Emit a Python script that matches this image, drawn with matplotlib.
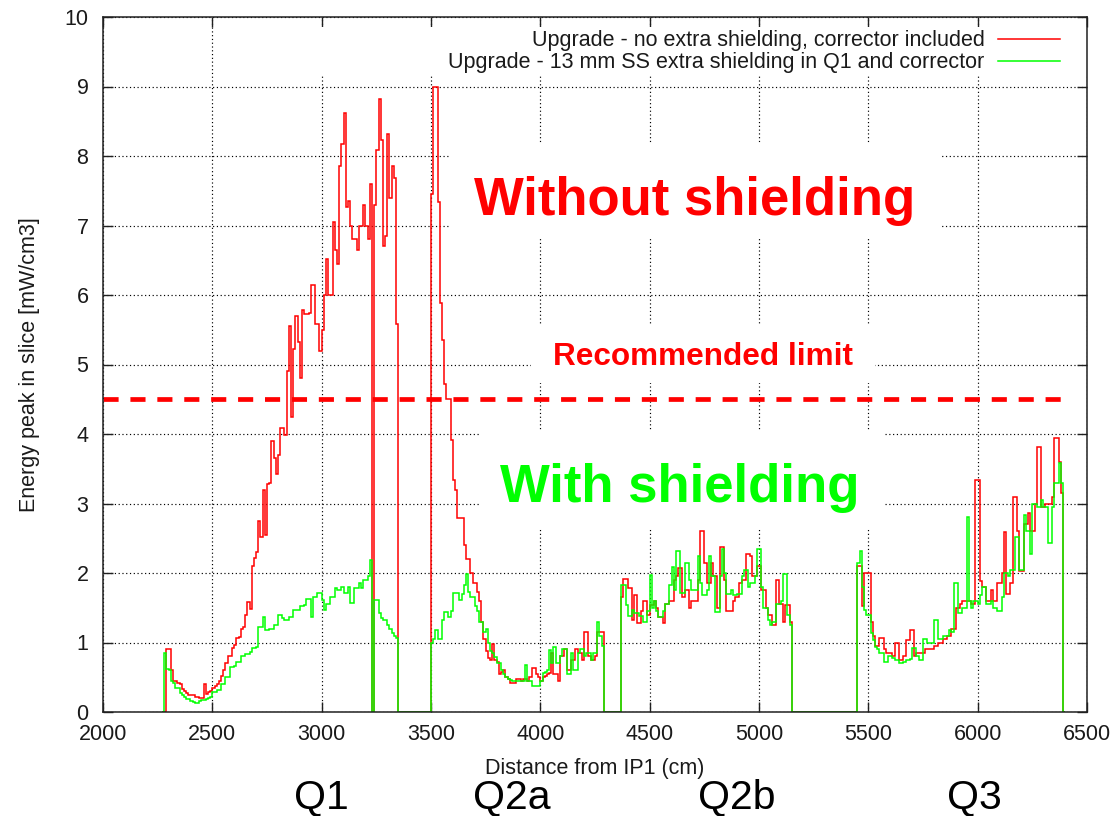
import numpy as np
import matplotlib
matplotlib.use("Agg")
import matplotlib.pyplot as plt
import matplotlib.transforms as mtransforms
from matplotlib.patches import Rectangle
from matplotlib.lines import Line2D

plt.rcParams["font.family"] = ["Liberation Sans", "DejaVu Sans"]

# ---------------------------------------------------------------- data
BIN_CM = 10                      # width of one longitudinal slice
X_TICKS = [2000, 2500, 3000, 3500, 4000, 4500, 5000, 5500, 6000, 6500]
Y_TICKS = [0, 1, 2, 3, 4, 5, 6, 7, 8, 9, 10]
RECOMMENDED_LIMIT = 4.5          # mW/cm3

LABEL_RED = "Upgrade - no extra shielding, corrector included"
LABEL_GREEN = "Upgrade - 13 mm SS extra shielding in Q1 and corrector"

MAGNETS = ["Q1", "Q2a", "Q2b", "Q3"]

# peak power density per slice, no extra shielding (first slice edge in cm)
red_q1_start = 2290
red_q1 = [0.90, 0.90, 0.60, 0.45, 0.44, 0.42, 0.41, 0.33, 0.30, 0.27,
          0.25, 0.25, 0.24, 0.22, 0.22, 0.20, 0.20, 0.40, 0.26, 0.29,
          0.30, 0.34, 0.37, 0.40, 0.45, 0.52, 0.60, 0.70, 0.80, 0.80,
          0.92, 0.96, 1.06, 1.08, 1.20, 1.22, 1.40, 1.58, 1.48, 2.10,
          2.22, 2.30, 2.75, 2.52, 3.20, 2.55, 3.28, 3.30, 3.90, 3.65,
          3.42, 3.70, 4.08, 4.08, 3.98, 4.90, 5.55, 4.25, 5.22, 5.70,
          5.33, 4.80, 5.78, 5.72, 5.72, 5.74, 6.15, 6.15, 5.58, 5.58,
          5.20, 5.50, 6.00, 6.52, 6.00, 6.00, 7.05, 6.65, 6.45, 7.85,
          8.17, 8.62, 7.26, 7.35, 7.00, 6.80, 6.80, 6.65, 7.00, 7.00,
          7.30, 7.00, 6.80, 7.60]
red_corr_start = 3240
red_corr = [7.30, 8.08, 8.82, 8.23, 6.70, 6.85, 8.32, 7.40, 7.85, 7.68,
            5.58]
red_q2a_start = 3500
red_q2a = [7.46, 9.00, 9.00, 7.34, 5.88, 5.35, 4.72, 4.50, 4.50, 3.91,
           3.34, 3.19, 2.79, 2.79, 2.79, 2.40, 2.20, 2.20, 2.00, 1.85,
           1.85, 1.73, 1.60, 1.30, 1.05, 0.88, 0.78, 0.75, 0.98, 0.75,
           0.72, 0.55, 0.58, 0.60, 0.50, 0.48, 0.42, 0.42, 0.42, 0.47,
           0.47, 0.45, 0.48, 0.47, 0.45, 0.50, 0.63, 0.63, 0.55, 0.50,
           0.45, 0.50, 0.52, 0.55, 0.56, 0.85, 0.55, 0.55, 0.45, 0.80,
           0.80, 0.90, 0.60, 0.60, 0.75, 0.75, 0.90, 0.85, 0.85, 0.75,
           1.15, 1.15, 0.80, 0.75, 0.75, 0.80, 1.15, 1.15, 1.15]
red_q2b_start = 4370
red_q2b = [1.65, 1.92, 1.92, 1.78, 1.78, 1.32, 1.68, 1.28, 1.28, 1.45,
           1.60, 1.60, 1.40, 1.54, 1.54, 1.60, 1.50, 1.37, 1.37, 1.28,
           1.55, 1.55, 1.60, 1.60, 1.90, 1.95, 2.07, 2.07, 1.65, 1.75,
           1.75, 1.50, 1.60, 1.60, 1.60, 1.90, 2.61, 2.61, 2.15, 1.85,
           1.85, 2.15, 1.95, 1.95, 1.50, 2.38, 2.38, 1.90, 1.45, 1.45,
           1.45, 1.60, 1.65, 1.65, 1.85, 1.90, 1.90, 2.28, 2.28, 2.25,
           1.95, 1.95, 2.10, 2.10, 1.75, 1.75, 1.49, 1.40, 1.40, 1.25,
           1.25, 1.90, 1.55, 1.55, 1.30, 1.54, 1.54, 1.30]
red_q3_start = 5450
red_q3 = [2.10, 2.10, 1.52, 2.00, 2.00, 2.00, 1.30, 1.10, 0.95, 0.95,
          1.06, 1.06, 0.90, 0.85, 0.85, 0.85, 0.80, 0.99, 0.99, 0.75,
          0.75, 0.80, 1.03, 1.03, 1.18, 1.18, 0.80, 0.85, 0.85, 0.85,
          0.85, 0.90, 0.90, 0.90, 0.90, 0.95, 0.95, 1.00, 1.00, 1.05,
          1.05, 1.10, 1.10, 1.20, 1.20, 1.50, 1.50, 1.55, 1.60, 1.60,
          1.60, 1.60, 1.55, 1.55, 3.34, 3.34, 1.88, 1.80, 1.80, 1.60,
          1.60, 1.75, 1.60, 1.60, 1.85, 1.85, 2.00, 2.59, 1.70, 1.70,
          1.85, 3.10, 3.10, 2.60, 2.03, 2.03, 2.70, 2.70, 2.86, 2.60,
          2.60, 3.00, 3.82, 3.82, 2.95, 2.95, 3.00, 3.00, 3.00, 3.10,
          3.94, 3.94, 3.60, 3.15]

# peak power density per slice, 13 mm SS extra shielding
green_q1_start = 2280
green_q1 = [0.85, 0.62, 0.60, 0.45, 0.42, 0.34, 0.34, 0.28, 0.24, 0.22,
            0.18, 0.18, 0.16, 0.15, 0.13, 0.13, 0.16, 0.17, 0.17, 0.19,
            0.20, 0.22, 0.29, 0.29, 0.32, 0.32, 0.41, 0.41, 0.51, 0.51,
            0.65, 0.65, 0.66, 0.72, 0.72, 0.80, 0.80, 0.84, 0.84, 0.86,
            0.92, 0.92, 0.94, 1.23, 1.23, 1.37, 1.18, 1.18, 1.20, 1.20,
            1.25, 1.25, 1.40, 1.40, 1.35, 1.32, 1.32, 1.37, 1.37, 1.47,
            1.47, 1.47, 1.52, 1.52, 1.54, 1.62, 1.62, 1.37, 1.66, 1.66,
            1.71, 1.71, 1.61, 1.47, 1.56, 1.56, 1.66, 1.66, 1.78, 1.76,
            1.76, 1.80, 1.71, 1.71, 1.80, 1.57, 1.57, 1.78, 1.78, 1.85,
            1.78, 1.90, 1.90, 1.95, 2.19]
green_corr_start = 3240
green_corr = [1.61, 1.61, 1.42, 1.35, 1.32, 1.32, 1.25, 1.20, 1.13, 1.10,
              1.06]
green_q2a_start = 3500
green_q2a = [1.00, 1.05, 1.18, 1.05, 1.05, 1.32, 1.44, 1.44, 1.36, 1.45,
             1.71, 1.71, 1.71, 1.61, 1.70, 1.83, 1.99, 1.73, 1.65, 1.65,
             1.52, 1.45, 1.30, 1.30, 1.15, 1.20, 0.99, 0.88, 0.85, 0.79,
             0.70, 0.70, 0.60, 0.55, 0.51, 0.48, 0.46, 0.45, 0.45, 0.45,
             0.45, 0.45, 0.45, 0.68, 0.45, 0.45, 0.38, 0.38, 0.38, 0.38,
             0.45, 0.56, 0.58, 0.60, 0.89, 0.70, 0.94, 0.70, 0.70, 0.80,
             0.90, 0.90, 0.55, 0.55, 0.85, 0.60, 0.60, 0.85, 0.90, 0.90,
             0.80, 0.85, 0.85, 0.75, 0.85, 0.85, 1.30, 1.10, 0.95]
green_q2b_start = 4370
green_q2b = [1.83, 1.83, 1.54, 1.38, 1.38, 1.47, 1.42, 1.42, 1.38, 1.38,
             1.30, 1.30, 1.45, 1.97, 1.50, 1.59, 1.45, 1.37, 1.37, 1.45,
             1.55, 1.55, 1.83, 2.09, 1.75, 2.31, 2.31, 1.71, 1.71, 2.14,
             2.14, 1.90, 1.76, 1.76, 1.75, 2.24, 1.85, 1.68, 1.68, 1.75,
             2.24, 1.95, 1.95, 1.44, 1.44, 1.95, 2.35, 2.00, 1.70, 1.70,
             1.75, 1.68, 1.68, 1.70, 1.70, 1.95, 2.05, 2.05, 1.80, 1.85,
             1.85, 1.95, 2.35, 2.35, 1.80, 1.49, 1.49, 1.32, 1.25, 1.30,
             1.30, 1.56, 1.56, 1.60, 1.99, 1.99, 1.40, 1.25]
green_q3_start = 5450
green_q3 = [2.14, 2.32, 1.80, 1.47, 1.40, 1.40, 1.13, 1.04, 0.94, 0.90,
            0.85, 0.85, 0.72, 0.72, 0.80, 0.80, 0.78, 0.75, 0.75, 0.70,
            0.70, 0.72, 0.75, 0.75, 0.76, 0.92, 0.92, 0.80, 0.75, 0.75,
            1.05, 1.05, 1.00, 1.00, 1.00, 1.32, 1.32, 1.05, 1.05, 1.10,
            1.10, 1.10, 1.18, 1.15, 1.85, 1.85, 1.42, 1.42, 1.50, 1.50,
            2.81, 1.60, 1.49, 1.60, 1.60, 1.55, 1.68, 1.80, 1.80, 1.56,
            1.56, 1.60, 1.50, 1.50, 1.46, 1.46, 1.65, 2.00, 2.00, 1.95,
            2.04, 2.04, 2.52, 2.52, 2.04, 2.04, 2.83, 2.60, 2.60, 2.28,
            3.00, 3.00, 2.95, 2.95, 3.05, 2.95, 2.95, 2.43, 2.43, 2.95,
            3.29, 3.29, 3.58, 3.30]

# --------------------------------------------------------------- layout
MAGNET_X = [3000, 3870, 4900, 5985]
# white panels that keep the grid away from the annotations (x0, y0, x1, y1)
PANELS = [(2800, 9.17, 6500, 9.85),
          (3591, 6.82, 5836, 8.19),
          (3957, 4.73, 5530, 5.57),
          (3728, 2.65, 5567, 4.06)]

GNU_RED = "#ff0000"
GNU_GREEN = "#00ff00"
FRAME = "#202020"
FS = 15.5


def on_slices(segments, lo=2270, hi=6400):
    """Place the stretches of slices on one common 10 cm grid, zero elsewhere."""
    edges = np.arange(lo, hi + BIN_CM, BIN_CM)
    vals = np.zeros(edges.size - 1)
    for start, seg in segments:
        i = (start - lo) // BIN_CM
        vals[i:i + len(seg)] = seg
    return edges, vals


edges_r, vals_r = on_slices([(red_q1_start, red_q1), (red_corr_start, red_corr),
                             (red_q2a_start, red_q2a), (red_q2b_start, red_q2b),
                             (red_q3_start, red_q3)])
edges_g, vals_g = on_slices([(green_q1_start, green_q1), (green_corr_start, green_corr),
                             (green_q2a_start, green_q2a), (green_q2b_start, green_q2b),
                             (green_q3_start, green_q3)])

W, H = 1112, 816
fig = plt.figure(figsize=(W / 100, H / 100), dpi=100)
ax = fig.add_axes([103 / W, 1 - 712 / H, 984 / W, 695 / H])

ax.set_xlim(X_TICKS[0], X_TICKS[-1])
ax.set_ylim(Y_TICKS[0], Y_TICKS[-1])
ax.set_xticks(X_TICKS)
ax.set_yticks(Y_TICKS)
ax.set_axisbelow(True)
ax.grid(True, color="black", linestyle=(0, (1.0, 2.2)), linewidth=0.85)
ax.tick_params(direction="in", length=7, width=1.0, color=FRAME,
               top=True, right=True, labelsize=FS, labelcolor="#1a1a1a")
ax.tick_params(axis="y", pad=10.5)
ax.tick_params(axis="x", pad=9)
for sp in ax.spines.values():
    sp.set_color(FRAME)
    sp.set_linewidth(1.1)

for x0, y0, x1, y1 in PANELS:
    ax.add_patch(Rectangle((x0, y0), x1 - x0, y1 - y0, facecolor="white",
                           edgecolor="none", zorder=1))

ax.stairs(vals_r, edges_r, baseline=None, color=GNU_RED, linewidth=1.1, zorder=2)
ax.stairs(vals_g, edges_g, baseline=None, color=GNU_GREEN, linewidth=1.1, zorder=2.1)

ax.hlines(RECOMMENDED_LIMIT, X_TICKS[0], 6417, colors=GNU_RED, linewidth=3.4,
          linestyles=[(0, (3.2, 2.5))], zorder=2.2)

ax.set_xlabel("Distance from IP1 (cm)", fontsize=FS, color="#1a1a1a")
ax.set_ylabel("Energy peak in slice [mW/cm3]", fontsize=FS, color="#1a1a1a")
ax.xaxis.set_label_coords(0.5, -0.066)
ax.yaxis.set_label_coords(-0.064, 0.5)

handles = [Line2D([], [], color=GNU_RED, linewidth=1.1),
           Line2D([], [], color=GNU_GREEN, linewidth=1.1)]
ax.legend(handles, [LABEL_RED, LABEL_GREEN], loc="upper right",
          bbox_to_anchor=(0.9726, 0.981), borderaxespad=0, borderpad=0,
          frameon=False, markerfirst=False, handlelength=2.9,
          handletextpad=0.6, labelspacing=0.06, fontsize=FS,
          labelcolor="#1a1a1a")

ax.text(4707, 7.15, "Without shielding", color=GNU_RED, fontsize=38,
        fontweight="bold", ha="center", va="baseline", zorder=3)
ax.text(4744, 4.99, "Recommended limit", color=GNU_RED, fontsize=22.7,
        fontweight="bold", ha="center", va="baseline", zorder=3)
ax.text(4638, 3.02, "With shielding", color=GNU_GREEN, fontsize=38,
        fontweight="bold", ha="center", va="baseline", zorder=3)

below = mtransforms.blended_transform_factory(ax.transData, ax.transAxes)
for name, xm in zip(MAGNETS, MAGNET_X):
    ax.text(xm, -0.138, name, transform=below, fontsize=29.5, color="black",
            ha="center", va="baseline", clip_on=False)

fig.savefig("out.png", dpi=100)
